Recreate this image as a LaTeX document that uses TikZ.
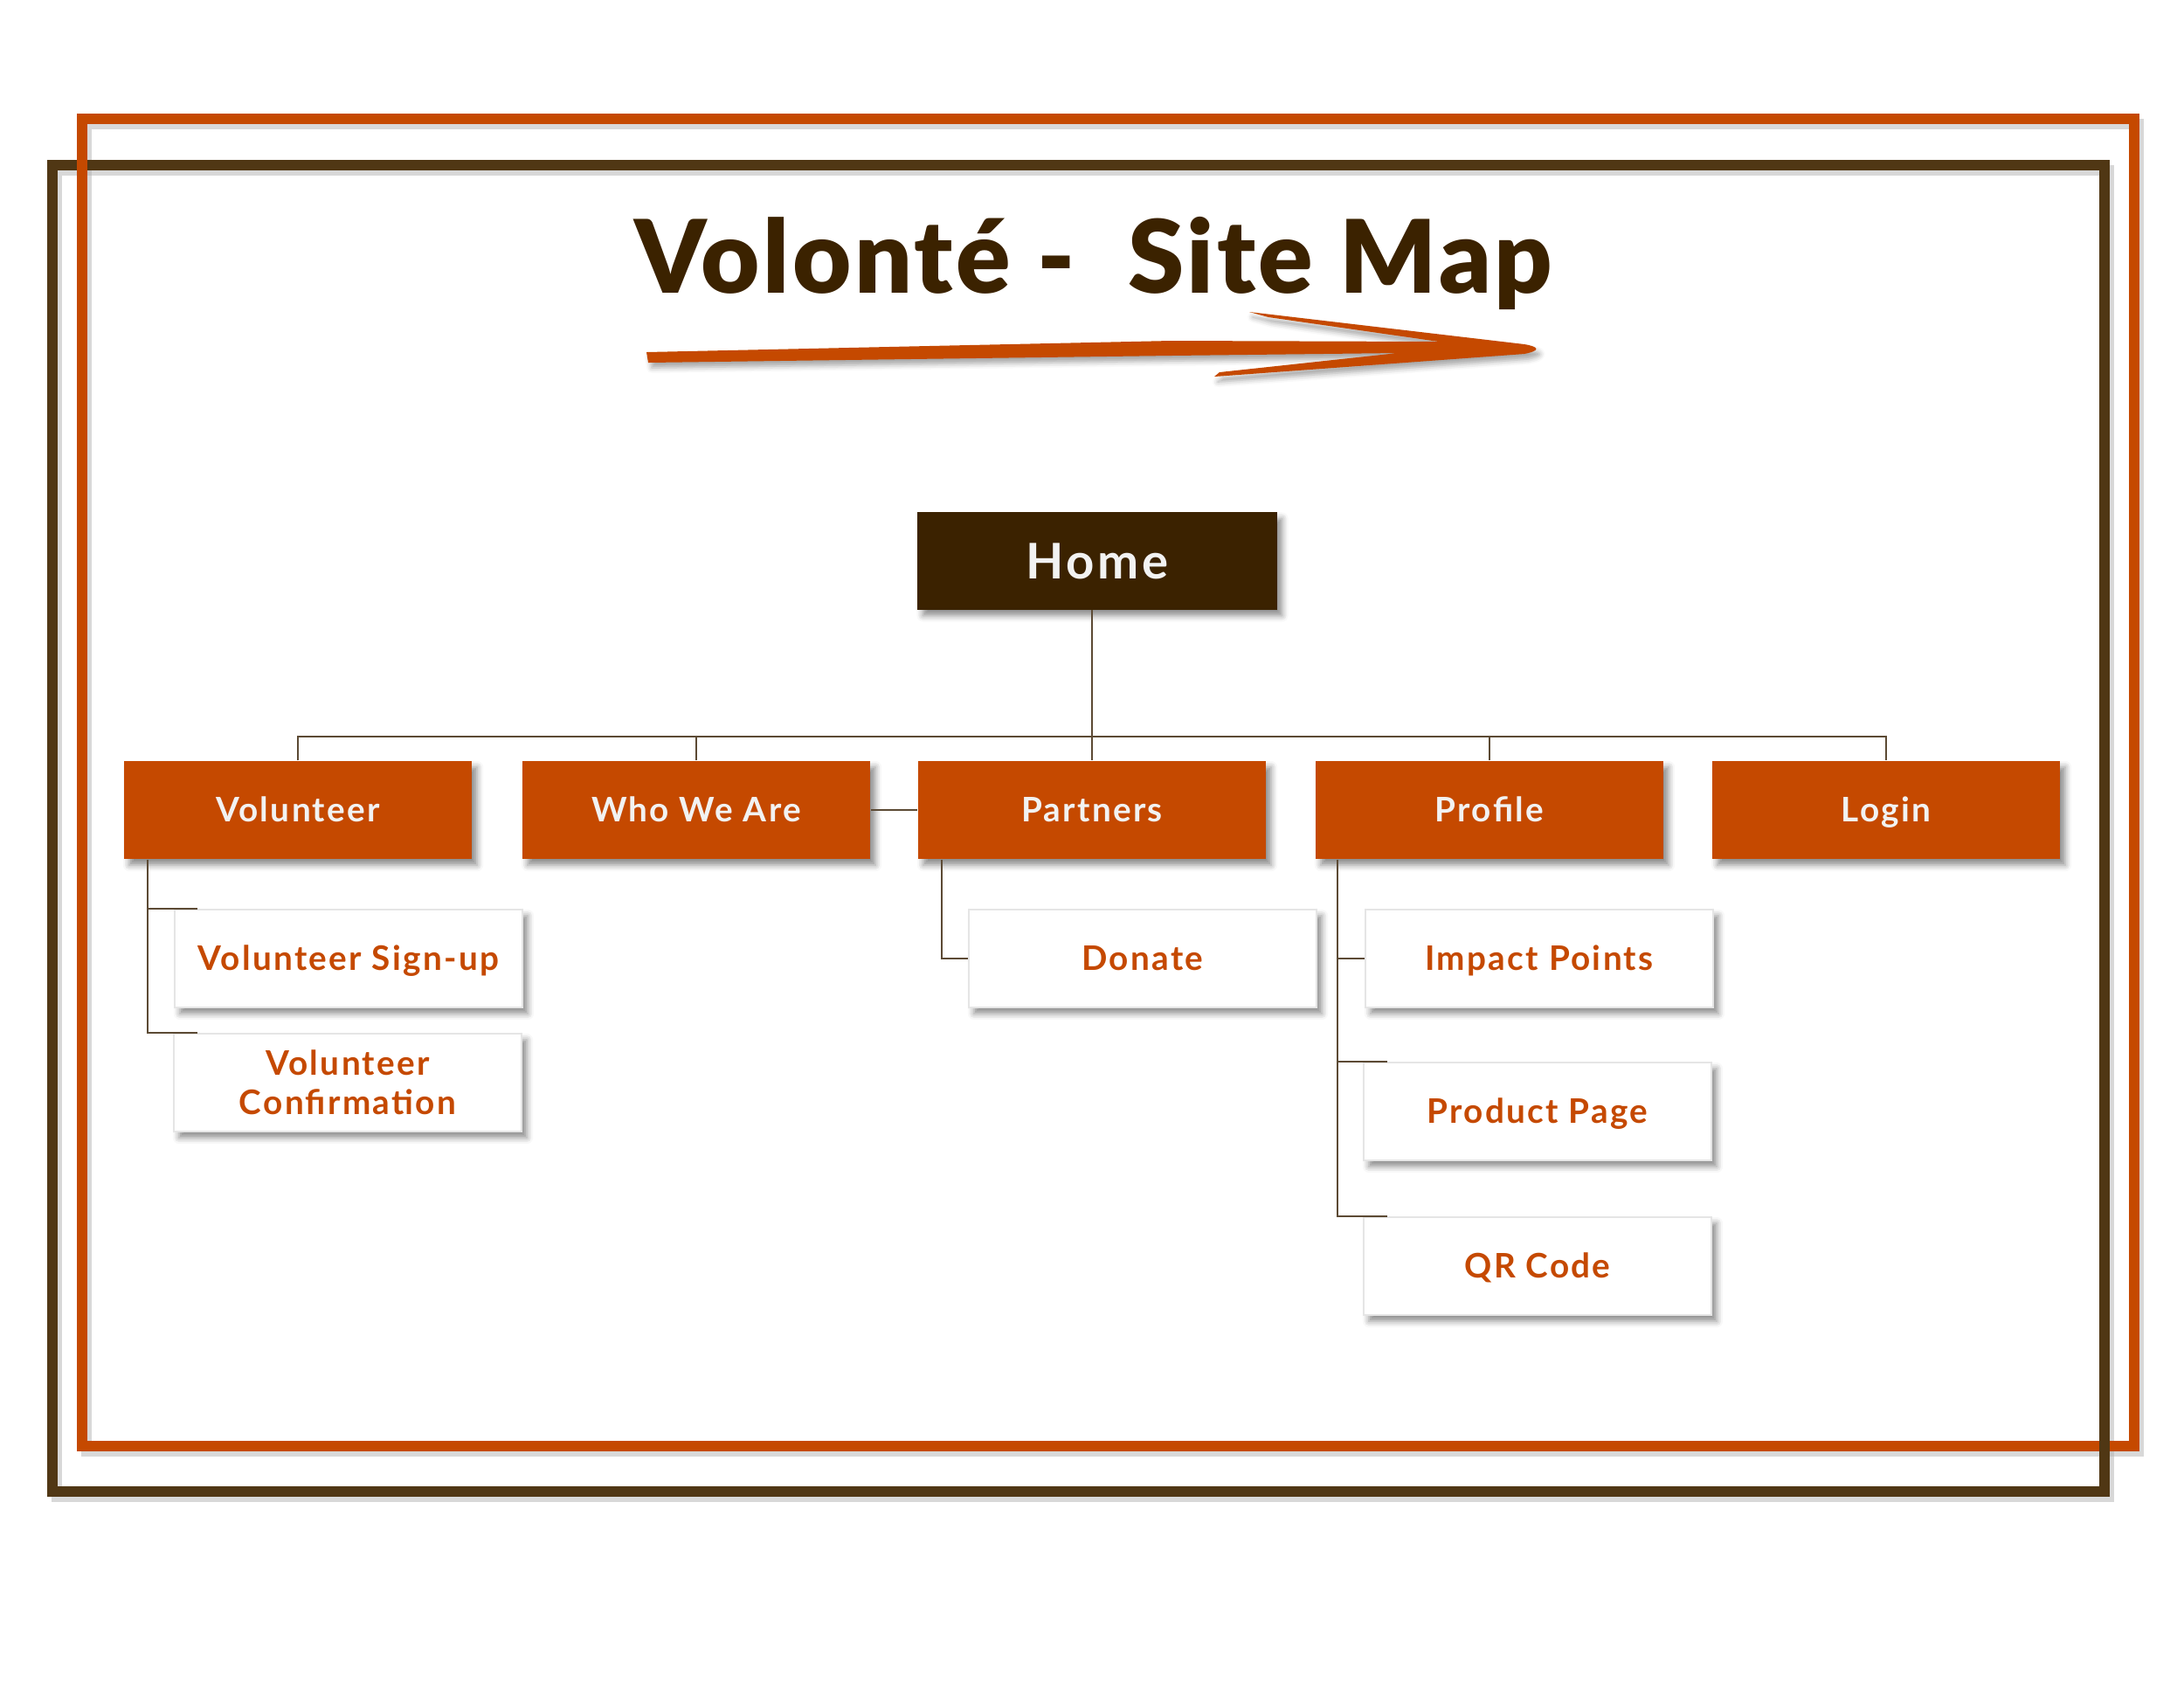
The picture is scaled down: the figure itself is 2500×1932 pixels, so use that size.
\documentclass[tikz,border=0pt]{standalone}
\usepackage{fontspec}
\setmainfont{Lato}
\newfontfamily\voltitlefont{Lato Black}
\usetikzlibrary{
  shadows.blur
}
\definecolor{volorange}{RGB}{197,73,0}
\definecolor{voldark}{RGB}{59,34,0}
\definecolor{volframe}{RGB}{80,55,20}
\definecolor{volline}{RGB}{92,74,52}
\definecolor{volwhite}{RGB}{242,242,242}

\begin{document}
\begin{tikzpicture}[
  x=0.01cm, y=-0.01cm,
  boxshadow/.style={blur shadow={shadow xshift=0.6mm, shadow yshift=-0.7mm,
    shadow blur radius=0.7mm, shadow opacity=45}},
  homebox/.style={boxshadow, fill=voldark, text=volwhite, inner sep=0pt,
    minimum width=4.11cm, minimum height=1.11cm, text height=4mm, text depth=0pt,
    font=\bfseries\fontsize{16}{19}\selectfont\addfontfeature{LetterSpace=6}},
  sectionbox/.style={boxshadow, fill=volorange, text=volwhite, inner sep=0pt,
    minimum width=3.98cm, minimum height=1.12cm, text height=2.75mm, text depth=0pt,
    font=\bfseries\fontsize{11}{13}\selectfont\addfontfeature{LetterSpace=6}},
  pagebox/.style={boxshadow, fill=white, draw=black!10, line width=0.2mm,
    text=volorange, inner sep=0pt, align=center,
    minimum width=3.98cm, minimum height=1.12cm, text height=2.75mm, text depth=0pt,
    font=\bfseries\fontsize{11}{12.8}\selectfont\addfontfeature{LetterSpace=6}},
  link/.style={draw=volline, line width=0.22mm},
  frameline/.style={line width=1.2mm},
  titletext/.style={anchor=base, inner sep=0pt,
    font=\voltitlefont\fontsize{33}{40}\selectfont\addfontfeature{LetterSpace=3}},
]
\useasboundingbox (0,0) rectangle (2500,1932);
% frames
\draw[frameline, black!30, opacity=.5] (65,195) rectangle (2414,1713);
\draw[frameline, black!30, opacity=.5] (99,142) rectangle (2448,1661);
\draw[frameline, volframe] (60,189) rectangle (2409,1707);
\draw[frameline, volorange] (94,136) rectangle (2443,1655);
\draw[frameline, volframe] (2409,1640) -- (2409,1670);
% title and brush arrow
\node[titletext, text=voldark] (title) at (1252,335) {Volonté -\ \ Site Map};
\fill[volorange, blur shadow={shadow xshift=0.4mm, shadow yshift=-0.6mm,
    shadow blur radius=0.6mm, shadow opacity=35}]
  (740,403) -- (1340,390) -- (1647,391) -- (1452,363) -- (1430,357)
  -- (1745,394) .. controls (1762,397) and (1764,401) .. (1745,405)
  -- (1390,431) -- (1396,426) -- (1600,404) -- (1340,407) -- (742,415) -- cycle;
% boxes
\node[homebox] (home) at (1256,642) {Home};
\node[sectionbox] (volunteer) at (341,927) {Volunteer};
\node[sectionbox] (who) at (797,927) {Who We Are};
\node[sectionbox] (partners) at (1250,927) {Partners};
\node[sectionbox] (profile) at (1705,927) {Profile};
\node[sectionbox] (login) at (2159,927) {Login};
\node[pagebox] (vsignup) at (399,1097) {Volunteer Sign-up};
\node[pagebox, text height={}, text depth={}] (vconfirm) at (398,1239) {Volunteer\\Confirmation};
\node[pagebox] (donate) at (1308,1097) {Donate};
\node[pagebox] (impact) at (1762,1097) {Impact Points};
\node[pagebox] (product) at (1760,1272) {Product Page};
\node[pagebox] (qrcode) at (1760,1449) {QR Code};
% links
\coordinate (bus) at (0,843);
\draw[link] (home.south -| partners.north) -- (partners.north);
\draw[link] (volunteer.north) -- (volunteer.north |- bus) -- (login.north |- bus) -- (login.north);
\foreach \n in {who,profile}
  \draw[link] (\n.north) -- (\n.north |- bus);
\draw[link] (who.east) -- (partners.west);
\coordinate (voltrunk) at ([xshift=0.28cm]volunteer.south west);
\draw[link] (voltrunk) |- ([xshift=0.27cm]vsignup.north west);
\draw[link] (voltrunk) |- ([xshift=0.28cm]vconfirm.north west);
\coordinate (partrunk) at ([xshift=0.28cm]partners.south west);
\draw[link] (partrunk) |- (donate.west);
\coordinate (proftrunk) at ([xshift=0.26cm]profile.south west);
\draw[link] (proftrunk) |- (impact.west);
\draw[link] (proftrunk) |- ([xshift=0.28cm]product.north west);
\draw[link] (proftrunk) |- ([xshift=0.28cm]qrcode.north west);
\end{tikzpicture}
\end{document}
